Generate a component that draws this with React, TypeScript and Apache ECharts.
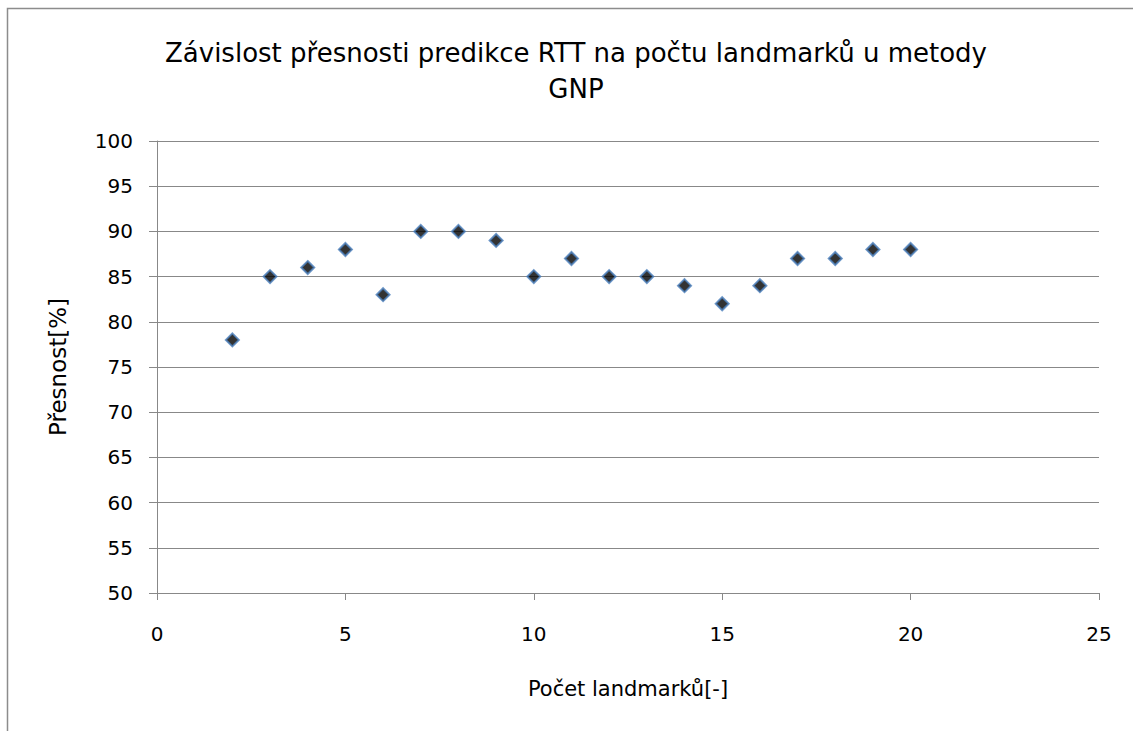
import React, { useEffect, useRef } from "react";
import * as echarts from "echarts";

const landmarks = [2, 3, 4, 5, 6, 7, 8, 9, 10, 11, 12, 13, 14, 15, 16, 17, 18, 19, 20];
const accuracy = [78, 85, 86, 88, 83, 90, 90, 89, 85, 87, 85, 85, 84, 82, 84, 87, 87, 88, 88];
const titleText = "Závislost přesnosti predikce RTT na počtu landmarků u metody\nGNP";
const xName = "Počet landmarků[-]";
const yName = "Přesnost[%]";

const FONT = "'DejaVu Sans', sans-serif";

export default function App() {
  const ref = useRef<HTMLDivElement>(null);
  useEffect(() => {
    const chart = echarts.init(ref.current!, null, { renderer: "svg" });
    chart.setOption({
      animation: false,
      backgroundColor: "#fff",
      title: {
        text: titleText,
        left: 571,
        top: 30,
        textAlign: "center",
        textStyle: { fontFamily: FONT, fontSize: 26, fontWeight: "normal", color: "#000", lineHeight: 36 },
      },
      graphic: [
        {
          type: "rect",
          shape: { x: 7.5, y: 8.5, width: 1200, height: 800 },
          style: { fill: "none", stroke: "#8c8c8c", lineWidth: 1.5 },
          silent: true,
        },
      ],
      grid: { left: 157, right: 34, top: 141, bottom: 138, containLabel: false },
      xAxis: {
        type: "value",
        min: 0,
        max: 25,
        interval: 5,
        name: xName,
        nameLocation: "middle",
        nameGap: 85,
        nameTextStyle: { fontFamily: FONT, fontSize: 21, fontWeight: "normal", color: "#000" },
        axisLine: { show: true, lineStyle: { color: "#888", width: 1 } },
        axisTick: { show: true, inside: false, length: 7, lineStyle: { color: "#888" } },
        axisLabel: { fontFamily: FONT, fontSize: 20, color: "#000", margin: 31 },
        splitLine: { show: false },
      },
      yAxis: {
        type: "value",
        min: 50,
        max: 100,
        interval: 5,
        name: yName,
        nameLocation: "middle",
        nameGap: 88,
        nameRotate: 90,
        nameTextStyle: { fontFamily: FONT, fontSize: 23, fontWeight: "normal", color: "#000" },
        axisLine: { show: true, lineStyle: { color: "#888", width: 1 } },
        axisTick: { show: true, inside: false, length: 8, lineStyle: { color: "#888" } },
        axisLabel: { fontFamily: FONT, fontSize: 20, color: "#000", margin: 24 },
        splitLine: { show: true, lineStyle: { color: "#888", width: 1 } },
      },
      series: [
        {
          type: "scatter",
          data: landmarks.map((x, i) => [x, accuracy[i]]),
          symbol: "diamond",
          symbolSize: 13,
          itemStyle: { color: "#000", borderColor: "#4a7ebb", borderWidth: 2 },
        },
      ],
    });
    return () => chart.dispose();
  }, []);
  return (
    <div
      ref={ref}
      style={{ position: "fixed", left: 0, top: 0, width: 1133, height: 731 }}
    />
  );
}
